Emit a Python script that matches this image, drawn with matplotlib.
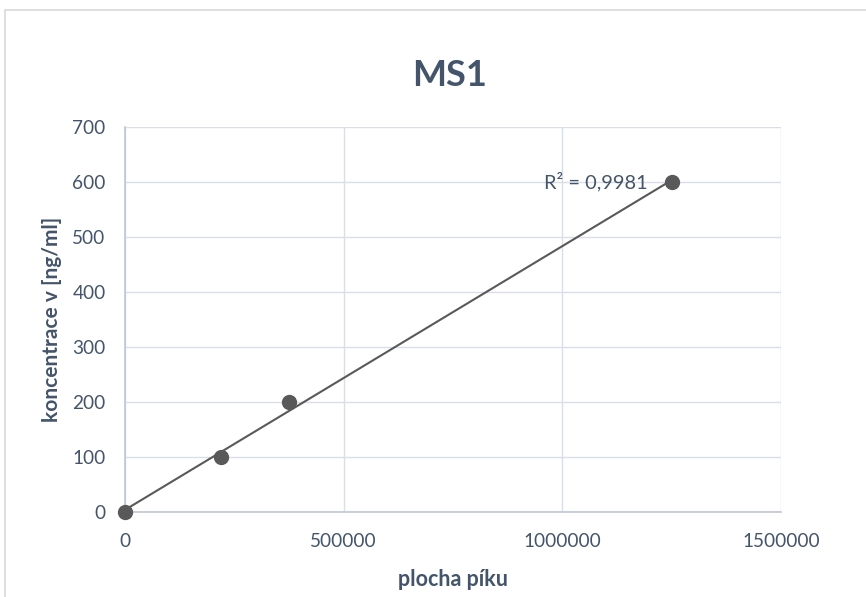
import numpy as np
import matplotlib
matplotlib.use("Agg")
import matplotlib.pyplot as plt
from matplotlib.patches import Rectangle

# Calibration data: peak area vs. concentration
plocha = [0, 219500, 375000, 1250000]
koncentrace = [0, 100, 200, 600]
r2_label = "R² = 0,9981"

x_ticks = [0, 500000, 1000000, 1500000]
y_ticks = [0, 100, 200, 300, 400, 500, 600, 700]

text_col = "#44546A"
grid_col = "#D9DEE8"
mark_col = "#595959"

plt.rcParams["font.family"] = ["Lato", "DejaVu Sans"]

fig = plt.figure(figsize=(8.66, 5.97), dpi=100)
ax = fig.add_axes([125 / 866, 1 - 512 / 597, (781 - 125) / 866, (512 - 127) / 597])

# outer chart frame
fig.patches.append(Rectangle((5 / 866, -0.1), 1.2, 1 - 10 / 597 + 0.1,
                             transform=fig.transFigure, fill=False,
                             edgecolor="#D9D9D9", linewidth=1.2))

# linear trendline across the data range
k, q = np.polyfit(plocha, koncentrace, 1)
xs = np.array([min(plocha), max(plocha)])
ax.plot(xs, k * xs + q, color=mark_col, linewidth=1.5, zorder=3)

ax.plot(plocha, koncentrace, "o", color=mark_col, markersize=10,
        linestyle="none", zorder=4, clip_on=False)

ax.set_xlim(0, 1500000)
ax.set_ylim(0, 700)
ax.set_xticks(x_ticks)
ax.set_yticks(y_ticks)
ax.set_xticklabels([str(v) for v in x_ticks])
ax.set_yticklabels([str(v) for v in y_ticks])
ax.tick_params(length=0, labelsize=13.7, labelcolor=text_col)
ax.tick_params(axis="y", pad=14)
ax.tick_params(axis="x", pad=15)

ax.grid(True, color=grid_col, linewidth=1)
ax.set_axisbelow(True)
for side in ["top", "right"]:
    ax.spines[side].set_visible(False)
for side in ["left", "bottom"]:
    ax.spines[side].set_color("#BFC7D5")
    ax.spines[side].set_linewidth(1.2)

ax.set_xlabel("plocha píku", fontsize=15.5, fontweight="bold", color=text_col, labelpad=14)
ax.set_ylabel("koncentrace v [ng/ml]", fontsize=15, fontweight="bold", color=text_col, labelpad=7)

fig.text(450 / 866, 1 - 75 / 597, "MS1", fontsize=26, fontweight="bold",
         color=text_col, ha="center", va="center")

ax.text(1250000 - 55000, 600, r2_label, fontsize=14.4, color=text_col,
        ha="right", va="center")

fig.savefig("out.png", dpi=100, facecolor="white")
